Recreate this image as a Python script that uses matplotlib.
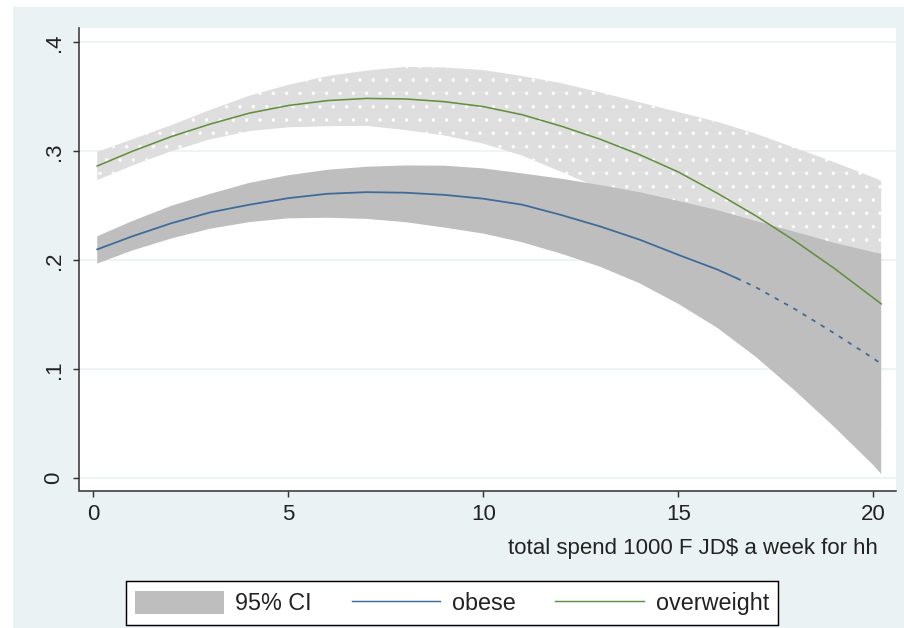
"""
Quadratic fits (with 95% CI) of obese / overweight share against weekly household spend
"""
import numpy as np
import matplotlib
matplotlib.use('Agg')
import matplotlib.pyplot as plt
from matplotlib.patches import Patch, Rectangle
from matplotlib.lines import Line2D

plt.rcParams['font.family'] = ['Liberation Sans', 'DejaVu Sans']
plt.rcParams['hatch.linewidth'] = 0.6

# values
spend = np.array([0.1, 1, 2, 3, 4, 5, 6, 7, 8, 9, 10, 11, 12, 13, 14, 15, 16, 16.5,
                  17, 18, 19, 20, 20.2])

obese_fit = np.array([0.210, 0.222, 0.234, 0.244, 0.251, 0.257, 0.261, 0.2625, 0.262,
                      0.260, 0.2565, 0.251, 0.2415, 0.231, 0.219, 0.205, 0.1915, 0.1835,
                      0.175, 0.155, 0.133, 0.110, 0.105])
obese_lo = np.array([0.197, 0.209, 0.220, 0.229, 0.235, 0.2385, 0.239, 0.238, 0.235,
                     0.230, 0.2245, 0.2165, 0.206, 0.194, 0.179, 0.160, 0.138, 0.1245,
                     0.111, 0.080, 0.047, 0.012, 0.004])
obese_hi = np.array([0.222, 0.236, 0.250, 0.261, 0.271, 0.278, 0.283, 0.2858, 0.287,
                     0.2868, 0.2843, 0.2797, 0.2748, 0.269, 0.2625, 0.2545, 0.246, 0.241,
                     0.236, 0.226, 0.216, 0.2075, 0.206])

over_fit = np.array([0.2865, 0.300, 0.3135, 0.325, 0.335, 0.342, 0.3465, 0.3485, 0.348,
                     0.3455, 0.341, 0.3335, 0.323, 0.311, 0.297, 0.281, 0.2615, 0.251,
                     0.2405, 0.2175, 0.1925, 0.1655, 0.160])
over_lo = np.array([0.2735, 0.287, 0.300, 0.311, 0.3185, 0.322, 0.323, 0.3233, 0.3195,
                    0.3145, 0.307, 0.296, 0.281, 0.266, 0.250, 0.227, 0.199, 0.181,
                    0.163, 0.128, 0.095, 0.058, 0.047])
over_hi = np.array([0.2995, 0.311, 0.324, 0.338, 0.351, 0.361, 0.369, 0.374, 0.3775,
                    0.377, 0.3745, 0.369, 0.3625, 0.354, 0.345, 0.336, 0.327, 0.3215,
                    0.316, 0.303, 0.290, 0.276, 0.273])

obese_solid_until = 16.5   # the obese fit turns dashed after this point

x_ticks = [0, 5, 10, 15, 20]
y_ticks = [0, 0.1, 0.2, 0.3, 0.4]
y_tick_labels = ['0', '.1', '.2', '.3', '.4']
x_title = 'total spend 1000 F JD$ a week for hh'
legend_labels = ['95% CI', 'obese', 'overweight']

BG = '#EAF2F3'
CI_DARK = '#BEBEBE'
CI_LIGHT = '#DEDEDE'
BLUE = '#3F6B98'
GREEN = '#618F3C'

W, H, DPI = 904, 628, 80
fig = plt.figure(figsize=(W / DPI, H / DPI), dpi=DPI, facecolor=BG)
# thin white outer frame on top and left
fig.patches.append(Rectangle((0, 1 - 7 / H), 1, 7 / H, transform=fig.transFigure,
                             facecolor='white', edgecolor='none', zorder=0))
fig.patches.append(Rectangle((0, 0), 13 / W, 1, transform=fig.transFigure,
                             facecolor='white', edgecolor='none', zorder=0))

left, right, top, bottom = 78.5, 896, 28, 490.5
ax = fig.add_axes([left / W, 1 - bottom / H, (right - left) / W, (bottom - top) / H])
ax.set_facecolor('white')
ax.set_xlim(-0.38, 20.58)
ax.set_ylim(-0.0112, 0.4131)

ax.fill_between(spend, over_lo, over_hi, facecolor=CI_LIGHT, edgecolor='white',
                hatch='.', linewidth=0, zorder=2)
ax.fill_between(spend, obese_lo, obese_hi, facecolor=CI_DARK, linewidth=0, zorder=3)

solid = spend <= obese_solid_until
dashed = spend >= obese_solid_until
ax.plot(spend[solid], obese_fit[solid], color=BLUE, lw=1.6, zorder=4)
ax.plot(spend[dashed], obese_fit[dashed], color=BLUE, lw=1.6, ls=(0, (2.5, 3.5)), zorder=4)
ax.plot(spend, over_fit, color=GREEN, lw=1.4, zorder=5)

for side in ['top', 'right']:
    ax.spines[side].set_visible(False)
for side in ['left', 'bottom']:
    ax.spines[side].set_linewidth(1.4)
    ax.spines[side].set_color('#333333')

ax.set_xticks(x_ticks)
ax.set_yticks(y_ticks)
ax.set_yticklabels(y_tick_labels, rotation=90, va='center')
ax.tick_params(direction='out', length=5.5, width=1.3, color='#333333',
               labelsize=20, labelcolor='#222222', pad=7)
ax.yaxis.grid(True, color=BG, lw=1.4)
ax.set_axisbelow(True)

ax.set_xlabel(x_title, loc='right', fontsize=20, color='#222222')
ax.xaxis.set_label_coords((878 - left) / (right - left), (bottom - 538) / (bottom - top))

handles = [Patch(facecolor=CI_DARK, edgecolor='none'),
           Line2D([], [], color=BLUE, lw=1.3),
           Line2D([], [], color=GREEN, lw=1.3)]
leg = fig.legend(handles, legend_labels, loc='center', bbox_to_anchor=(452 / W, 1 - 603 / H),
                 ncol=3, frameon=True, fancybox=False, edgecolor='black', facecolor='white',
                 framealpha=1, fontsize=21, handlelength=3.8, handleheight=1.15,
                 handletextpad=0.5, columnspacing=1.7, borderpad=0.4, borderaxespad=0)
leg.get_frame().set_linewidth(1.3)
for t in leg.get_texts():
    t.set_color('#222222')

fig.savefig('out.png', dpi=DPI, facecolor=fig.get_facecolor())
